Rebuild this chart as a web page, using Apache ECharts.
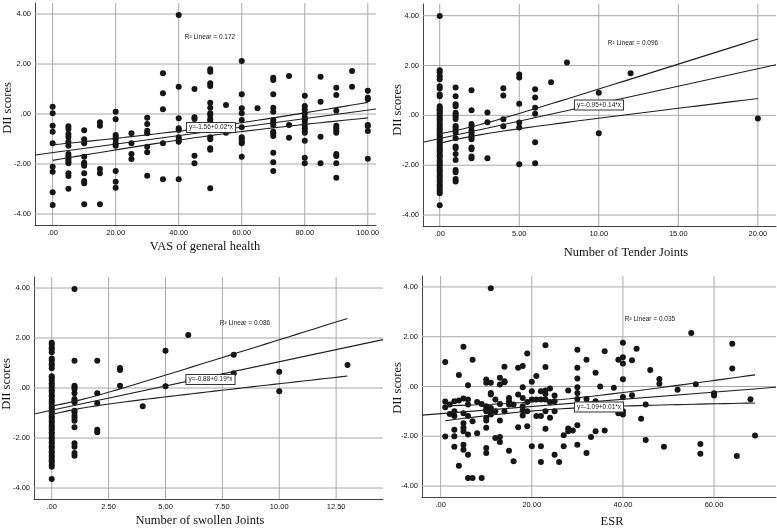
<!DOCTYPE html>
<html lang="en">
<head>
<meta charset="UTF-8" />
<title>DII scores</title>
<script src="https://cdn.jsdelivr.net/npm/echarts@6/dist/echarts.min.js"></script>
<style>
  html, body { margin: 0; padding: 0; background: #fff; }
  #chart { width: 777px; height: 528px; }
</style>
</head>
<body>
<div id="chart"></div>
<script>
// DII scores read per x column: [x, [dii values...]]
const vasGroups = [
  [0, [0.29, 0.03, -0.47, -0.71, -1.17, -2.11, -2.31, -3.13, -3.64]],
  [5, [-0.49, -0.6, -0.8, -0.92, -1.11, -1.27, -1.6, -1.71, -1.81, -1.91, -1.97, -2.37, -2.48, -2.99]],
  [10, [-0.65, -1.01, -1.17, -1.71, -1.95, -2.0, -2.07, -2.37, -2.68, -2.77, -3.61]],
  [15, [-0.33, -0.47, -2.2, -2.37, -3.61]],
  [20, [0.09, -0.21, -0.84, -0.91, -1.01, -1.17, -1.27, -2.28, -2.71, -2.95]],
  [25, [-0.77, -1.17, -1.6, -1.8]],
  [30, [-0.15, -0.4, -0.67, -0.77, -1.31, -1.53, -2.47]],
  [35, [1.63, 0.83, 0.19, -1.17, -2.61]],
  [40, [3.96, 1.09, -0.17, -0.57, -0.64, -0.93, -1.04, -1.11, -2.61]],
  [45, [1.0, -0.13, -0.2, -1.67, -1.97]],
  [50, [1.79, 1.69, 1.23, 1.12, 0.45, 0.25, 0.03, -0.04, -0.2, -0.27, -0.93, -1.01, -1.37, -1.43, -2.97]],
  [55, [0.36, -0.75]],
  [60, [2.12, 0.79, 0.23, 0.03, -0.24, -0.53, -0.93, -1.01, -1.11, -1.17, -1.71]],
  [65, [0.23]],
  [70, [1.45, 1.36, 0.79, 0.25, 0.09, -0.24, -0.35, -0.44, -0.71, -0.77, -0.88, -1.55, -1.93, -2.28]],
  [75, [1.52, -0.44, -0.95]],
  [80, [0.73, 0.32, 0.19, 0.03, -0.13, -0.21, -0.31, -0.44, -0.57, -0.68, -0.75, -1.07, -1.75, -1.97]],
  [85, [1.49, 0.49, -0.91, -1.97]],
  [90, [1.05, 0.76, 0.13, -0.47, -0.57, -0.67, -0.75, -1.6, -1.68, -1.97, -2.55]],
  [95, [1.72, 1.09]],
  [100, [0.93, 0.65, 0.59, -0.44, -0.48, -0.68, -1.79]]
];

const tenderGroups = [
  [0, [3.99, 1.81, 1.72, 1.57, 1.45, 1.17, 1.08, 0.84, 0.77, 0.37, 0.29, 0.21, 0.13, 0.04, -0.05, -0.14, -0.21, -0.33, -0.42, -0.52, -0.6, -0.69, -0.8, -0.87, -0.96, -1.06, -1.14, -1.23, -1.33, -1.4, -1.49, -1.6, -1.67, -1.79, -1.87, -1.97, -2.05, -2.16, -2.24, -2.35, -2.44, -2.55, -2.64, -2.76, -2.84, -2.95, -3.04, -3.13, -3.61]],
  [1, [1.12, 0.77, 0.45, 0.37, 0.11, 0.04, -0.05, -0.15, -0.43, -0.49, -0.59, -0.69, -0.92, -1.25, -1.32, -1.55, -1.79, -2.19, -2.28, -2.55, -2.65]],
  [2, [1.01, 0.21, -0.35, -0.45, -0.59, -0.69, -0.79, -0.88, -0.96, -1.29, -1.36, -1.65, -1.72]],
  [3, [0.12, -0.28, -1.72]],
  [4, [1.09, 0.8, -0.16, -0.44]],
  [5, [1.64, 1.52, 0.47, -0.29, -0.49, -1.96]],
  [6, [1.05, 0.72, 0.31, 0.07, -1.08, -1.92]],
  [7, [1.33]],
  [8, [2.12]],
  [10, [0.91, -0.72]],
  [12, [1.69]],
  [20, [-0.13]]
];

const swollenGroups = [
  [0, [1.81, 1.74, 1.62, 1.55, 1.43, 1.18, 1.1, 0.97, 0.9, 0.79, 0.47, 0.4, 0.3, 0.19, 0.12, 0.02, -0.09, -0.16, -0.28, -0.35, -0.47, -0.55, -0.63, -0.74, -0.82, -0.93, -1.0, -1.12, -1.19, -1.3, -1.38, -1.49, -1.58, -1.66, -1.77, -1.84, -1.96, -2.03, -2.14, -2.22, -2.33, -2.4, -2.52, -2.59, -2.7, -2.78, -2.89, -2.96, -3.08, -3.15, -3.64]],
  [1, [3.96, 1.09, 0.09, 0.03, -0.04, -0.21, -0.44, -0.51, -0.57, -0.91, -0.97, -1.11, -1.2, -1.31, -1.57, -2.21, -2.35, -2.6, -2.71]],
  [2, [1.09, -0.21, -0.61, -1.67, -1.77]],
  [3, [0.8, 0.72, 0.09]],
  [4, [-0.73]],
  [5, [1.49, 0.07]],
  [6, [2.12, 0.29]],
  [8, [1.33, 0.59]],
  [10, [0.65, -0.13]],
  [13, [0.92]]
];

// ESR, DII
const esrPoints = [
  [1, 0.98], [1, -0.6], [1, -0.83], [1, -2.01],
  [2, -0.72], [2, -1.1],
  [3, -0.59], [3, -0.99], [3, -1.19], [3, -1.74], [3, -2.0], [3, -2.42],
  [4, 0.46], [4, -0.56], [4, -3.18],
  [5, 1.6], [5, -0.48], [5, -1.07], [5, -1.48], [5, -1.66], [5, -1.8], [5, -2.34], [5, -2.54],
  [6, 0.05], [6, -0.52], [6, -0.72], [6, -1.19], [6, -1.93], [6, -2.74], [6, -3.68],
  [7, 1.07], [7, -1.4], [7, -3.68],
  [8, -0.62], [8, -1.88],
  [9, -0.7], [9, -3.68],
  [10, 0.28], [10, 0.15], [10, -0.79], [10, -0.9], [10, -0.99], [10, -1.26], [10, -1.37], [10, -1.66], [10, -2.47], [10, -2.67],
  [11, 3.95], [11, 0.15], [11, -0.26], [11, -0.32], [11, -0.86], [11, -0.99], [11, -1.13],
  [12, -0.52], [12, -0.99], [12, -2.07],
  [13, 0.35], [13, 0.08], [13, -0.7], [13, -1.37], [13, -2.03], [13, -2.23],
  [14, 0.79], [14, 0.21], [14, 0.17], [14, -0.99],
  [15, -0.46], [15, -0.59], [15, -0.72], [15, -2.58],
  [16, -0.72], [16, -3.0],
  [17, 0.75], [17, -0.32], [17, -1.64],
  [18, 0.82], [18, -0.03], [18, -0.46], [18, -0.79], [18, -0.95], [18, -1.17],
  [19, 1.33], [19, -0.62], [19, -0.99], [19, -1.6],
  [20, 0.19], [20, -0.19], [20, -0.52], [20, -2.4],
  [21, 0.42], [21, -0.52], [21, -1.19],
  [22, -0.19], [22, -0.52], [22, -1.19], [22, -2.4], [22, -3.03],
  [23, 1.66], [23, 0.78], [23, -0.16], [23, -0.3], [23, -0.52], [23, -0.99], [23, -1.7],
  [24, -0.08], [24, -0.62], [24, -1.26],
  [25, -0.36], [25, -0.59], [25, -0.99], [25, -2.74],
  [26, -3.03],
  [27, -1.96], [27, -2.4],
  [28, -0.16], [28, -1.69], [28, -1.8],
  [29, -1.77],
  [30, 1.48], [30, 0.75], [30, 0.32], [30, -0.03], [30, -0.26], [30, -0.5], [30, -1.56], [30, -2.34],
  [32, 1.07], [32, -0.5], [32, -2.67],
  [33, -2.03],
  [34, 0.55], [34, -0.59], [34, -1.8],
  [35, 0.0],
  [36, 1.42], [36, -1.77],
  [38, -0.05],
  [39, 1.07], [39, -1.07],
  [40, 1.76], [40, 1.18], [40, 0.92], [40, 0.29], [40, -0.42], [40, -0.99], [40, -1.13],
  [42, 1.05], [42, -0.35],
  [43, 1.52], [44, -1.3], [45, -0.72], [45, -2.15], [46, 0.66],
  [48, 0.3], [48, 0.11], [49, -2.42], [52, -0.13], [55, 2.15], [56, 0.09],
  [57, -2.31], [57, -2.7], [60, -0.27], [60, -0.36], [64, 1.72], [64, 0.72],
  [65, -2.79], [68, -0.51], [69, -1.97]
];

// fit line (intercept, slope) and mean CI band (centre x, half width at centre, spread, x from, x to)
const vasFit = [-1.545, 0.017];
const vasBand = [50, 0.17, 0.0052, 0, 100];
const tenderFit = [-0.93, 0.14];
const tenderBand = [1, 0.18, 0.062, 0, 20];
const swollenFit = [-0.89, 0.194];
const swollenBand = [0.6, 0.16, 0.092, 0, 13];
const esrFit = [-1.09, 0.0144];
const esrBand = [22, 0.18, 0.0114, 1, 69];

const yTicks = [-4, -2, 0, 2, 4];
const vasTicks = [0, 20, 40, 60, 80, 100];
const tenderTicks = [0, 5, 10, 15, 20];
const swollenTicks = [0, 2.5, 5, 7.5, 10, 12.5];
const esrTicks = [0, 20, 40, 60];

const r2Labels = ['0.172', '0.096', '0.086', '0.035'];
const eqLabels = ['y=-1.56+0.02*x', 'y=-0.95+0.14*x', 'y=-0.88+0.19*x', 'y=-1.09+0.01*x'];
const xNames = ['VAS of general health', 'Number of Tender Joints', 'Number of swollen Joints', 'ESR'];

const panels = [
  { pts: vasGroups, fit: vasFit, band: vasBand, ticks: vasTicks, xr: [-5.6, 102.6], yr: [-4.44, 4.44],
    grid: { left: 35, top: 3, width: 341, height: 222 },
    r2: [210, 37], eq: [211, 127.5], name: [205, 247], yname: [8, 108] },
  { pts: tenderGroups, fit: tenderFit, band: tenderBand, ticks: tenderTicks, xr: [-1.05, 21.14], yr: [-4.44, 4.47],
    grid: { left: 423, top: 4, width: 353, height: 222 },
    r2: [633, 43], eq: [599, 105], name: [626, 253], yname: [398, 110] },
  { pts: swollenGroups, fit: swollenFit, band: swollenBand, ticks: swollenTicks, xr: [-0.78, 14.56], yr: [-4.44, 4.44],
    grid: { left: 34, top: 277, width: 349, height: 222 },
    r2: [245, 323], eq: [210.5, 379.5], name: [200, 521], yname: [7, 384] },
  { pts: esrPoints, fit: esrFit, band: esrBand, ticks: esrTicks, xr: [-4.1, 73.6], yr: [-4.44, 4.44],
    grid: { left: 422, top: 276, width: 354, height: 221 },
    r2: [650, 319], eq: [599, 407], name: [612, 522], yname: [398, 388] }
];

function flatten(pts) {
  if (!Array.isArray(pts[0][1])) return pts;
  const out = [];
  pts.forEach(g => g[1].forEach(v => out.push([g[0], v])));
  return out;
}

function fmt(v) {
  return v === 0 ? '.00' : v.toFixed(2);
}

const gridCol = '#a8a8a8';
const axisCol = '#444';
const lineCol = '#1e1e1e';
const labelFont = { fontSize: 7.5, color: '#111', fontFamily: 'Liberation Sans' };

const grids = [], xAxes = [], yAxes = [], series = [], graphic = [];

panels.forEach((p, i) => {
  grids.push(Object.assign({ containLabel: false }, p.grid));
  xAxes.push({
    gridIndex: i, type: 'value', min: p.xr[0], max: p.xr[1],
    axisLine: { show: true, onZero: false, lineStyle: { color: axisCol, width: 1 } },
    axisTick: { show: false },
    axisLabel: Object.assign({ customValues: p.ticks, formatter: fmt, margin: 4 }, labelFont),
    splitLine: { show: false }
  });
  yAxes.push({
    gridIndex: i, type: 'value', min: p.yr[0], max: p.yr[1],
    axisLine: { show: true, onZero: false, lineStyle: { color: axisCol, width: 1 } },
    axisTick: { show: false },
    axisLabel: Object.assign({ customValues: yTicks, formatter: fmt, margin: 4 }, labelFont),
    splitLine: { show: false }
  });

  series.push({
    type: 'scatter', xAxisIndex: i, yAxisIndex: i, data: flatten(p.pts),
    symbolSize: 6, itemStyle: { color: '#151515', opacity: 1 }, z: 2, silent: true
  });

  // grid lines at the tick values, drawn as plain lines across the plot
  const [xa, xb] = p.xr, [ya, yb] = p.yr;
  p.ticks.forEach(v => series.push({
    type: 'line', xAxisIndex: i, yAxisIndex: i, showSymbol: false, z: 1, silent: true,
    data: [[v, ya], [v, yb]], lineStyle: { color: gridCol, width: 1 }
  }));
  yTicks.forEach(v => series.push({
    type: 'line', xAxisIndex: i, yAxisIndex: i, showSymbol: false, z: 1, silent: true,
    data: [[xa, v], [xb, v]], lineStyle: { color: gridCol, width: 1 }
  }));

  const a = p.fit[0], b = p.fit[1];
  series.push({
    type: 'line', xAxisIndex: i, yAxisIndex: i, showSymbol: false, z: 3, silent: true,
    data: [[p.xr[0], a + b * p.xr[0]], [p.xr[1], a + b * p.xr[1]]],
    lineStyle: { color: lineCol, width: 1.1 }
  });

  // mean confidence band curves
  const [xm, h0, k, x0, x1] = p.band;
  const up = [], lo = [];
  const steps = 40;
  for (let s = 0; s <= steps; s++) {
    const x = x0 + (x1 - x0) * s / steps;
    const h = Math.sqrt(h0 * h0 + k * k * (x - xm) * (x - xm));
    up.push([x, a + b * x + h]);
    lo.push([x, a + b * x - h]);
  }
  [up, lo].forEach(d => series.push({
    type: 'line', xAxisIndex: i, yAxisIndex: i, showSymbol: false, z: 3, silent: true,
    data: d, lineStyle: { color: lineCol, width: 1.1 }
  }));

  graphic.push({
    type: 'text', x: p.r2[0], y: p.r2[1], z: 10,
    style: {
      text: 'R² Linear = ' + r2Labels[i], fill: '#222',
      font: '6.5px "Liberation Sans"', align: 'center', verticalAlign: 'middle'
    }
  });
  graphic.push({
    type: 'text', x: p.eq[0], y: p.eq[1], z: 10,
    style: {
      text: eqLabels[i], fill: '#222', font: '6.5px "Liberation Sans"',
      align: 'center', verticalAlign: 'middle',
      backgroundColor: '#fff', borderColor: '#333', borderWidth: 1, padding: [1, 2, 1, 2]
    }
  });
  graphic.push({
    type: 'text', x: p.name[0], y: p.name[1], z: 10,
    style: {
      text: xNames[i], fill: '#111', font: '12.5px "Liberation Serif"',
      align: 'center', verticalAlign: 'middle'
    }
  });
  graphic.push({
    type: 'text', x: p.yname[0], y: p.yname[1], rotation: Math.PI / 2, z: 10,
    style: {
      text: 'DII scores', fill: '#111', font: '12.5px "Liberation Serif"',
      align: 'center', verticalAlign: 'middle'
    }
  });
});

const chart = echarts.init(document.getElementById('chart'));
chart.setOption({
  animation: false,
  backgroundColor: '#fff',
  grid: grids,
  xAxis: xAxes,
  yAxis: yAxes,
  series: series,
  graphic: graphic
});
</script>
</body>
</html>
